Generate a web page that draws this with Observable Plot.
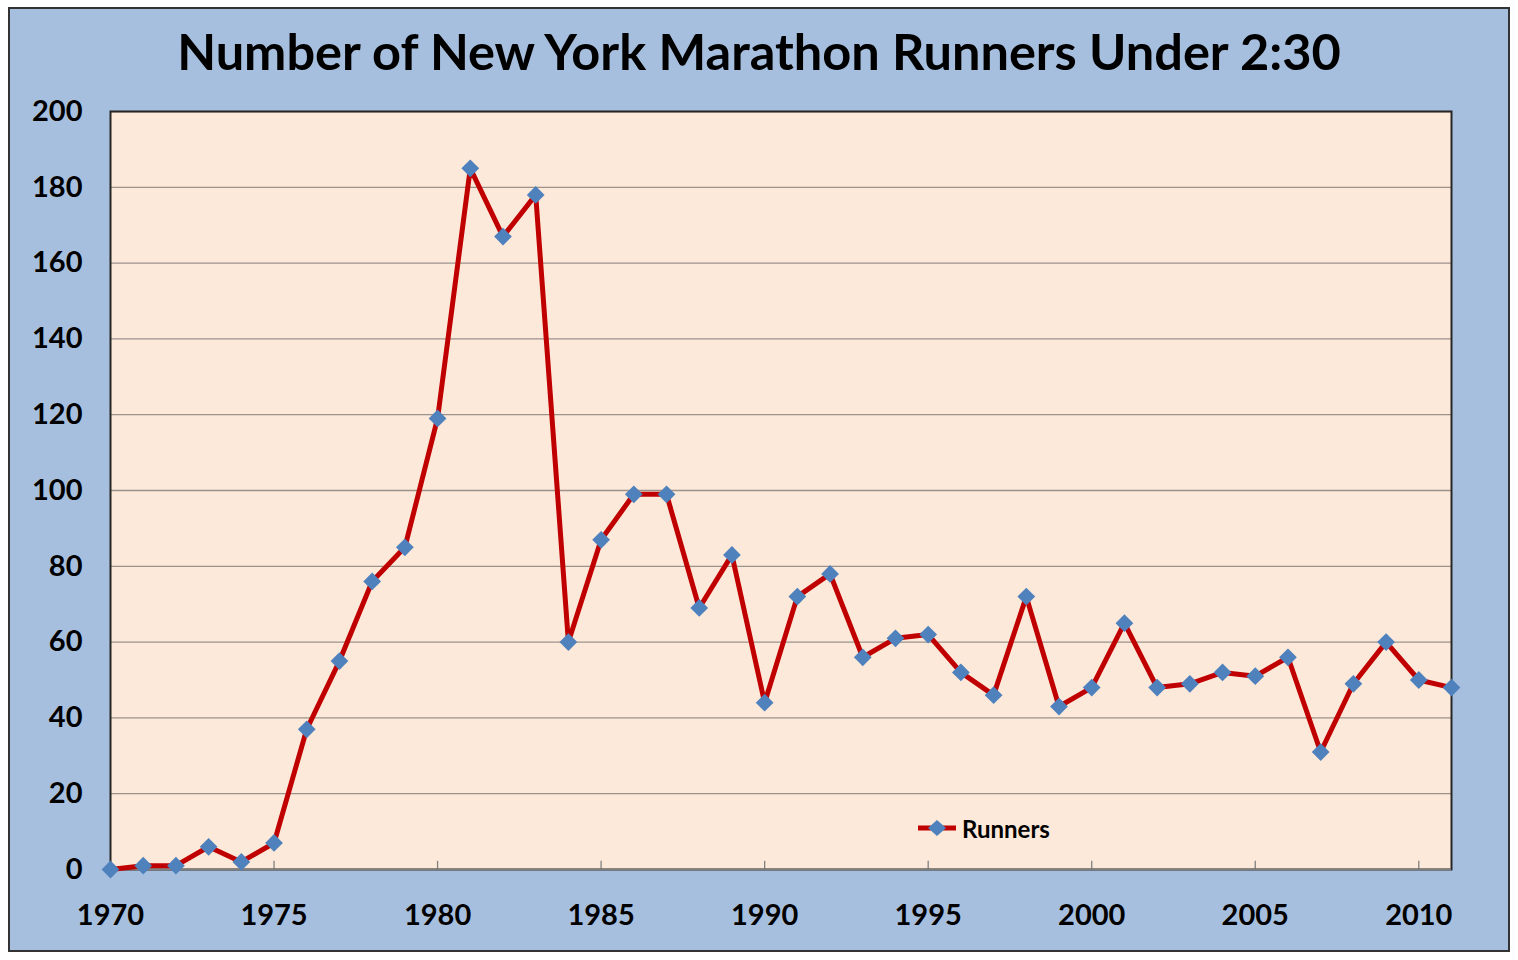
<!DOCTYPE html>
<html>
<head>
<meta charset="utf-8">
<script src="https://cdn.jsdelivr.net/npm/d3@7"></script>
<script src="https://cdn.jsdelivr.net/npm/@observablehq/plot@0.6"></script>
<style>
  html, body { margin: 0; padding: 0; background: #ffffff; width: 1518px; height: 960px; overflow: hidden; }
  #frame { position: absolute; left: 8px; top: 7px; width: 1502px; height: 945px; box-sizing: border-box;
           background: #a7bfde; border: 2px solid #333333; }
  #title { position: absolute; left: 0; width: 1518px; top: 20px; text-align: center;
           font-family: Lato, "Open Sans", sans-serif; font-weight: 700; font-size: 50.5px; color: #000; line-height: 62px; }
  #chart { position: absolute; left: 0; top: 0; }
  #legend { position: absolute; left: 916px; top: 813px; display: flex; align-items: center;
            font-family: Lato, sans-serif; font-weight: 700; font-size: 24px; color: #000; }
  #legend svg { margin-right: 4px; }
</style>
</head>
<body>
<div id="frame"></div>
<div id="chart"></div>
<div id="title">Number of New York Marathon Runners Under 2:30</div>
<div id="legend"><svg width="42" height="30"><line x1="2" y1="15" x2="40" y2="15" stroke="#c00000" stroke-width="5"/><path d="M21,7 L30,15 L21,23 L12,15 Z" fill="#4f81bd"/></svg><span>Runners</span></div>
<script>
const years = d3.range(1970, 2012);
const runners = [0, 1, 1, 6, 2, 7, 37, 55, 76, 85,
                 119, 185, 167, 178, 60, 87, 99, 99, 69, 83,
                 44, 72, 78, 56, 61, 62, 52, 46, 72, 43,
                 48, 65, 48, 49, 52, 51, 56, 31, 49, 60,
                 50, 48];
const yTicks = d3.range(0, 201, 20);
const xTicks = [1970, 1975, 1980, 1985, 1990, 1995, 2000, 2005, 2010];
const seriesName = "Runners";

const data = years.map((y, i) => ({year: y, value: runners[i]}));
const tickData = xTicks.map(x => ({x, y1: 0, y2: 2.15}));

const chart = Plot.plot({
  width: 1518,
  height: 960,
  marginLeft: 110,
  marginRight: 67,
  marginTop: 111,
  marginBottom: 91,
  style: {background: "transparent", fontFamily: "Lato, sans-serif", fontWeight: 700, fontSize: "29px", color: "#000"},
  x: {domain: [1970, 2011], ticks: xTicks, tickFormat: d => String(d), label: null},
  y: {domain: [0, 200], ticks: yTicks, label: null},
  marks: [
    Plot.frame({fill: "#fde9d9", stroke: null}),
    Plot.gridY(yTicks.filter(d => d > 0), {stroke: "#9c928c", strokeOpacity: 1, strokeWidth: 1.3}),
    Plot.ruleX(tickData, {x: "x", y1: "y1", y2: "y2", stroke: "#808080", strokeWidth: 1.3}),
    Plot.frame({stroke: "#262626", strokeWidth: 2}),
    Plot.ruleY([0], {stroke: "#808080", strokeWidth: 2}),
    Plot.axisY({ticks: yTicks, tickSize: 0, tickPadding: 28, fontSize: 29, fontWeight: 700, fill: "#000"}),
    Plot.axisX({ticks: xTicks, tickSize: 0, tickPadding: 35, fontSize: 29, fontWeight: 700, fill: "#000", tickFormat: d => String(d)}),
    Plot.line(data, {x: "year", y: "value", stroke: "#c00000", strokeWidth: 5, strokeLinejoin: "round"}),
    Plot.dot(data, {x: "year", y: "value", symbol: "diamond2", r: 8, fill: "#4f81bd", stroke: null})
  ]
});
document.getElementById("chart").appendChild(chart);
</script>
</body>
</html>
